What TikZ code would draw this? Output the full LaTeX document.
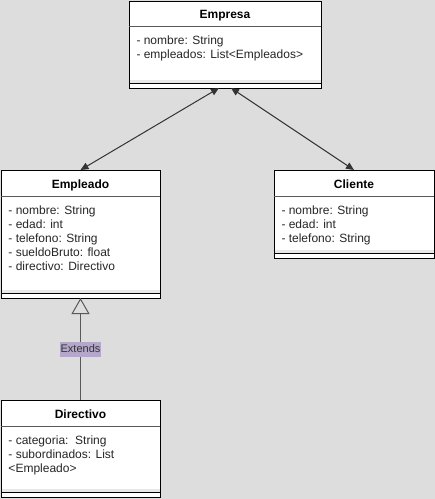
\documentclass[tikz,border=0pt]{standalone}
\usepackage{fontspec}
\setmainfont{Liberation Sans}
\usetikzlibrary{positioning}
\usetikzlibrary{arrows.meta}

\definecolor{bggray}{HTML}{DDDDDD}
\definecolor{stripgray}{HTML}{E8E8E8}
\definecolor{extendsbg}{HTML}{B4A7C9}

\begin{document}
\begin{tikzpicture}[
            x = 1pt, y = -1pt, % pixel grid, y going down
            > = {Triangle[length=8pt,width=7pt]}, % arrow head style
            line width = 1pt
        ]

        \tikzstyle{classbox}=[
            draw = black,
            fill = white,
            anchor = north west,
            inner sep = 0pt,
            outer sep = 0pt
        ]
        \tikzstyle{classname}=[
            font = \fontsize{12}{14}\selectfont\bfseries,
            anchor = base,
            inner sep = 0pt
        ]
        \tikzstyle{attrs}=[
            font = \fontsize{12}{14}\selectfont,
            text = black!85,
            align = left,
            anchor = north west,
            inner sep = 0pt
        ]
        \tikzstyle{sepline}=[draw = black!65, line width = 1pt]

        % background and margins
        \fill[bggray] (0,0) rectangle (435,499);
        \useasboundingbox (0,0) rectangle (435,499);

	% Empresa
        \node[classbox, minimum width=192pt, minimum height=87pt] (empresa) at (129,1) {};
        \draw[sepline] ([yshift=-25pt]empresa.north west) -- ([yshift=-25pt]empresa.north east);
        \node[classname] (empresaT) at ([yshift=-17.5pt]empresa.north) {Empresa};
        \node[attrs] (empresaA) at ([xshift=7pt,yshift=-34pt]empresa.north west) {- nombre: String\\- empleados: List<Empleados>};
        \fill[stripgray] ([xshift=0.5pt,yshift=8pt]empresa.south west) rectangle ([xshift=-0.5pt,yshift=4.5pt]empresa.south east);
        \draw ([yshift=4.5pt]empresa.south west) -- ([yshift=4.5pt]empresa.south east);

	% Empleado
        \node[classbox, minimum width=159pt, minimum height=128pt] (empleado) at (1,170) {};
        \draw[sepline] ([yshift=-26pt]empleado.north west) -- ([yshift=-26pt]empleado.north east);
        \node[classname] (empleadoT) at ([yshift=-18pt]empleado.north) {Empleado};
        \node[attrs] (empleadoA) at ([xshift=7pt,yshift=-35pt]empleado.north west) {- nombre: String\\- edad: int\\- telefono: String\\- sueldoBruto: float\\- directivo: Directivo};
        \fill[stripgray] ([xshift=0.5pt,yshift=8pt]empleado.south west) rectangle ([xshift=-0.5pt,yshift=4.5pt]empleado.south east);
        \draw ([yshift=4.5pt]empleado.south west) -- ([yshift=4.5pt]empleado.south east);

	% Cliente
        \node[classbox, minimum width=160pt, minimum height=88pt] (cliente) at (274,170) {};
        \draw[sepline] ([yshift=-26pt]cliente.north west) -- ([yshift=-26pt]cliente.north east);
        \node[classname] (clienteT) at ([yshift=-18pt]cliente.north) {Cliente};
        \node[attrs] (clienteA) at ([xshift=7pt,yshift=-35pt]cliente.north west) {- nombre: String\\- edad: int\\- telefono: String};
        \fill[stripgray] ([xshift=0.5pt,yshift=8pt]cliente.south west) rectangle ([xshift=-0.5pt,yshift=4.5pt]cliente.south east);
        \draw ([yshift=4.5pt]cliente.south west) -- ([yshift=4.5pt]cliente.south east);

	% Directivo
        \node[classbox, minimum width=159pt, minimum height=97pt] (directivo) at (1,400) {};
        \draw[sepline] ([yshift=-26pt]directivo.north west) -- ([yshift=-26pt]directivo.north east);
        \node[classname] (directivoT) at ([yshift=-18pt]directivo.north) {Directivo};
        \node[attrs] (directivoA) at ([xshift=7pt,yshift=-35pt]directivo.north west) {- categoria:\ \ String\\- subordinados: List\\<Empleado>};
        \fill[stripgray] ([xshift=0.5pt,yshift=8pt]directivo.south west) rectangle ([xshift=-0.5pt,yshift=4.5pt]directivo.south east);
        \draw ([yshift=4.5pt]directivo.south west) -- ([yshift=4.5pt]directivo.south east);

	% associations
        \draw[<->, black!80] ([xshift=-6pt]empresa.south) -- (empleado.north);
        \draw[<->, black!80] ([xshift=6pt]empresa.south) -- (cliente.north);

	% inheritance
        \draw[-{Triangle[open,length=16pt,width=18pt]}, black!65] (directivo.north) -- (empleado.south)
            node[midway, fill=extendsbg, text=black!80, inner sep=1pt, minimum height=15pt, font=\fontsize{11}{13}\selectfont] (extends) {Extends};

\end{tikzpicture}
\end{document}
